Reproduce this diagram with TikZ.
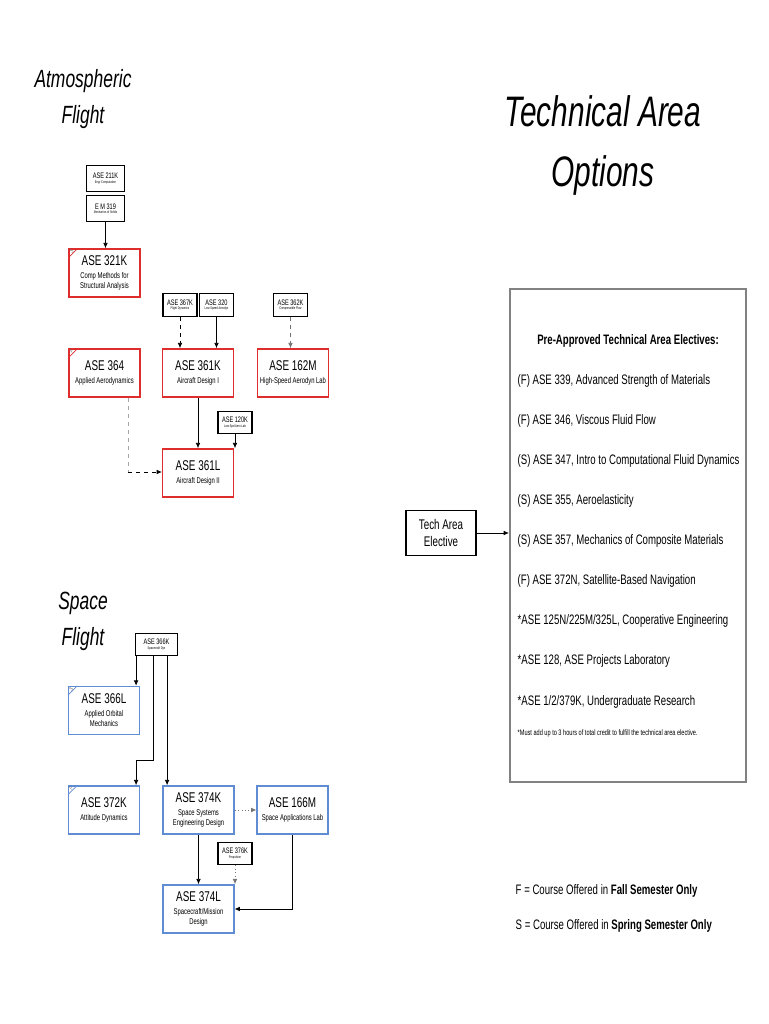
\documentclass[tikz,border=0pt]{standalone}
\usepackage{fontspec}
\setmainfont{Liberation Sans}[FakeStretch=0.7]
\usetikzlibrary{arrows.meta, positioning}

\definecolor{atmored}{RGB}{222,45,45}
\definecolor{spaceblue}{RGB}{95,140,210}
\definecolor{framegray}{RGB}{130,130,130}

\newcommand{\coursecode}[1]{{\fontsize{10.6}{11.5}\selectfont #1}}
\newcommand{\prereqcode}[1]{{\fontsize{6}{7}\selectfont #1}}

\begin{document}
\begin{tikzpicture}[
    x=0.75pt, y=-0.75pt,
    course/.style={
        rectangle,
        line width=1.1pt,
        minimum width=53pt,
        minimum height=36pt,
        inner sep=1pt,
        align=center,
        font=\fontsize{6.3}{7.6}\selectfont
    },
    atmo/.style={course, draw=atmored},
    orbit/.style={course, draw=spaceblue},
    prereq/.style={
        rectangle,
        draw=black,
        line width=0.8pt,
        minimum width=25.5pt,
        minimum height=17pt,
        inner sep=0.5pt,
        align=center,
        font=\fontsize{2.8}{3.4}\selectfont
    },
    corner/.style={line width=0.5pt},
    season/.style={font=\fontsize{4.2}{4.2}\selectfont, text=black!60, rotate=45, inner sep=0pt},
    title/.style={font=\itshape\fontsize{18.7}{27}\selectfont, align=center},
    elective/.style={anchor=west, font=\fontsize{10.3}{12}\selectfont},
    line/.style={draw=black, -{Latex[length=4pt,width=3.5pt]}, line width=0.6pt},
    soft/.style={line, dashed},
    faint/.style={line, draw=black!55, dashed},
    dotline/.style={line, draw=black!55, dotted}
]
\useasboundingbox (0,0) rectangle (768,1024);

% Titles
\node[title] (atmotitle) at (83,99) {Atmospheric\\Flight};
\node[title] (spacetitle) at (83,621) {Space\\Flight};
\node[font=\itshape\fontsize{32}{45}\selectfont, align=center] (techtitle) at (603,145) {Technical Area\\Options};

% Atmospheric Flight courses
\node[prereq, minimum width=28pt, minimum height=20pt] (a211k) at (105.5,178.5) {\prereqcode{ASE 211K}\\Engr Computation};
\node[prereq, minimum width=28pt, minimum height=20pt] (em319) at (105.5,208.5) {\prereqcode{E M 319}\\Mechanics of Solids};
\node[atmo] (c321k) at (104.5,273) {\coursecode{ASE 321K}\\[2pt]Comp Methods for\\Structural Analysis};

\node[prereq] (a367k) at (180,305) {\prereqcode{ASE 367K}\\Flight Dynamics};
\node[prereq] (a320) at (216.5,305) {\prereqcode{ASE 320}\\Low-Speed Aerodyn};
\node[prereq] (a362k) at (290.5,305) {\prereqcode{ASE 362K}\\Compressible Flow};

\node[atmo] (c364) at (104.5,373) {\coursecode{ASE 364}\\[2pt]Applied Aerodynamics};
\node[atmo] (c361k) at (198,373) {\coursecode{ASE 361K}\\[2pt]Aircraft Design I};
\node[atmo] (c162m) at (293,373) {\coursecode{ASE 162M}\\[2pt]High-Speed Aerodyn Lab};

\node[prereq] (a120k) at (235,422.5) {\prereqcode{ASE 120K}\\Low-Spd Aero Lab};
\node[atmo] (c361l) at (198,473) {\coursecode{ASE 361L}\\[2pt]Aircraft Design II};

% Space Flight courses
\node[prereq, minimum width=32pt] (a366k) at (156.5,644.5) {\prereqcode{ASE 366K}\\Spacecraft Dyn};
\node[orbit] (c366l) at (104,710.5) {\coursecode{ASE 366L}\\[2pt]Applied Orbital\\Mechanics};
\node[orbit] (c372k) at (104,810) {\coursecode{ASE 372K}\\[2pt]Attitude Dynamics};
\node[orbit] (c374k) at (198.5,810) {\coursecode{ASE 374K}\\[2pt]Space Systems\\Engineering Design};
\node[orbit] (c166m) at (292.5,810) {\coursecode{ASE 166M}\\[2pt]Space Applications Lab};
\node[prereq] (a376k) at (235,853.5) {\prereqcode{ASE 376K}\\Propulsion};
\node[orbit] (c374l) at (198.5,909) {\coursecode{ASE 374L}\\[2pt]Spacecraft/Mission\\Design};

% Semester corner marks
\draw[corner, atmored] ([yshift=-7pt]c321k.north west) -- ([xshift=7pt]c321k.north west);
\node[season] at ([xshift=2.4pt,yshift=-2.4pt]c321k.north west) {S};
\draw[corner, atmored] ([yshift=-7pt]c364.north west) -- ([xshift=7pt]c364.north west);
\node[season] at ([xshift=2.4pt,yshift=-2.4pt]c364.north west) {F};
\draw[corner, spaceblue] ([yshift=-7pt]c366l.north west) -- ([xshift=7pt]c366l.north west);
\node[season] at ([xshift=2.4pt,yshift=-2.4pt]c366l.north west) {S};
\draw[corner, spaceblue] ([yshift=-7pt]c372k.north west) -- ([xshift=7pt]c372k.north west);
\node[season] at ([xshift=2.4pt,yshift=-2.4pt]c372k.north west) {F};

% Atmospheric Flight connectors
\path[line] (em319.south) -- (em319.south |- c321k.north);
\path[soft] (a367k.south) -- (a367k.south |- c361k.north);
\path[line] (a320.south) -- (a320.south |- c361k.north);
\path[faint] (a362k.south) -- (a362k.south |- c162m.north);
\path[line] (c361k.south) -- (c361l.north);
\path[line] (a120k.south) -- (a120k.south |- c361l.north);
\coordinate (bend364) at (128,472);
\draw[dashed, draw=black!35, line width=0.6pt] (c364.south -| bend364) -- (bend364);
\path[soft] (bend364) -- (bend364 -| c361l.west);

% Space Flight connectors
\coordinate (in366l) at ([xshift=-3pt]c366l.north east);
\coordinate (in372k) at ([xshift=-3pt]c372k.north east);
\coordinate (in374k) at ([xshift=3.5pt]c374k.north west);
\coordinate (bend372) at (153,760);
\path[line] (a366k.south -| in366l) -- (in366l);
\path[line] (a366k.south -| bend372) -- (bend372) -| (in372k);
\path[line] (a366k.south -| in374k) -- (in374k);
\path[dotline] (c374k.east) -- (c166m.west);
\path[line] (c374k.south) -- (c374l.north);
\path[dotline] (a376k.south) -- (a376k.south |- c374l.north);
\path[line] (c166m.south) |- (c374l.east);

% Technical Area Electives
\node[rectangle, draw=framegray, line width=1.5pt, minimum width=177pt, minimum height=370pt] (electives) at (628,535.5) {};
\node[rectangle, draw=black, line width=0.8pt, minimum width=52.5pt, minimum height=34pt, align=center, font=\fontsize{10.5}{12.5}\selectfont] (tae) at (441,533) {Tech Area\\Elective};
\path[line] (tae.east) -- (tae.east -| electives.west);

\node[font=\bfseries\fontsize{10.3}{12}\selectfont] (heading) at (628,341) {Pre-Approved Technical Area Electives:};
\node[elective] (item1) at (513,381) {(F) ASE 339, Advanced Strength of Materials};
\node[elective] (item2) at (513,421) {(F) ASE 346, Viscous Fluid Flow};
\node[elective] (item3) at (513,461) {(S) ASE 347, Intro to Computational Fluid Dynamics};
\node[elective] (item4) at (513,501) {(S) ASE 355, Aeroelasticity};
\node[elective] (item5) at (513,541) {(S) ASE 357, Mechanics of Composite Materials};
\node[elective] (item6) at (513,581) {(F) ASE 372N, Satellite-Based Navigation};
\node[elective] (item7) at (513,621) {*ASE 125N/225M/325L, Cooperative Engineering};
\node[elective] (item8) at (513,661) {*ASE 128, ASE Projects Laboratory};
\node[elective] (item9) at (513,702) {*ASE 1/2/379K, Undergraduate Research};
\node[elective, font=\fontsize{6}{7}\selectfont] (footnote) at (513,733) {*Must add up to 3 hours of total credit to fulfill the technical area elective.};

% Legend
\node[elective] (legendf) at (511,891) {F = Course Offered in \textbf{Fall Semester Only}};
\node[elective] (legends) at (511,926) {S = Course Offered in \textbf{Spring Semester Only}};

\end{tikzpicture}
\end{document}
